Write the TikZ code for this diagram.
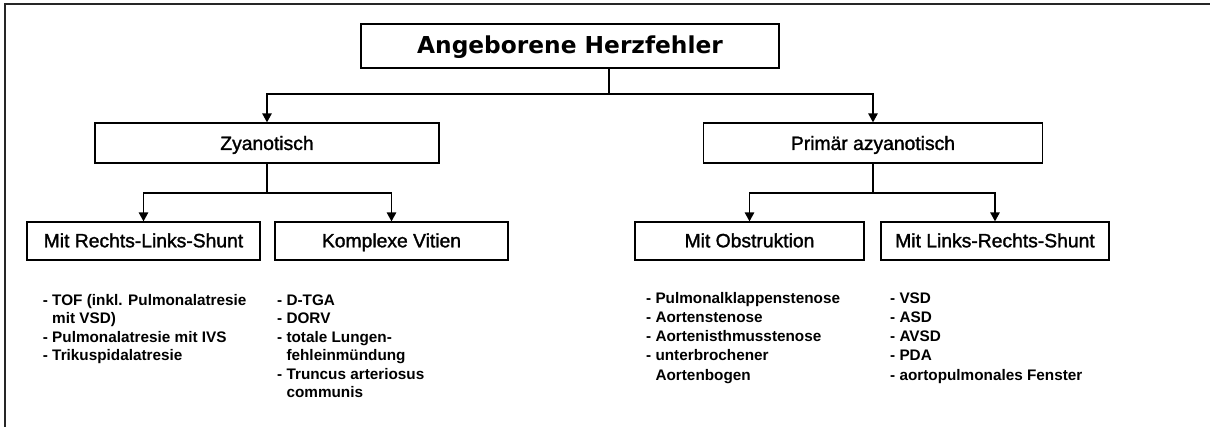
\documentclass[tikz,border=0pt]{standalone}
\usepackage{fontspec}
\setmainfont{Liberation Sans}
\newfontfamily\headfont{DejaVu Sans}
\newfontfamily\labelfont[FakeBold=1.5]{Liberation Sans}
\usetikzlibrary{arrows.meta}

% a left-aligned list whose first baseline is the node's base
\newcommand\entrylist[1]{\begin{tabular}[t]{@{}l@{}}#1\end{tabular}}
\newcommand\cont{\hphantom{- }}

\begin{document}
\begin{tikzpicture}[x=1pt,y=-1pt,
  box/.style={draw, line width=1.3pt, inner sep=0pt, minimum height=40pt,
              text height=13.9pt, text depth=0pt,
              font=\labelfont\fontsize{19.3}{23}\selectfont},
  subbox/.style={box, minimum height=38pt, text height=12.6pt},
  titlebox/.style={box, minimum height=44pt, text height=17.3pt, text depth=1.6pt,
              font=\headfont\bfseries\fontsize{23.3}{28}\selectfont},
  link/.style={line width=1.3pt},
  arr/.style={link, -{Triangle[length=9pt,width=9.5pt]}},
  listtext/.style={anchor=base west, inner sep=0pt, font=\bfseries\fontsize{15.3}{18.5}\selectfont},
  listwide/.style={listtext, font=\bfseries\fontsize{15.3}{19.3}\selectfont}
]
\useasboundingbox (0,0) rectangle (1210,426);
\fill[white] (0,0) rectangle (1210,426);

% outer frame (only the top and left edges lie inside the page)
\draw[line width=2pt, black!85] (5,430) -- (5,4) -- (1214,4);

% boxes
\node[titlebox, minimum width=418pt] (root) at (570,46) {Angeborene Herzfehler};
\node[box, minimum width=344pt] (zy) at (267,143) {Zyanotisch};
\node[box, minimum width=339pt] (pa) at (873,143) {Primär azyanotisch};
\node[subbox, minimum width=233pt] (rl) at (143.5,241) {Mit Rechts-Links-Shunt};
\node[subbox, minimum width=233pt] (kv) at (391.5,241) {Komplexe Vitien};
\node[subbox, minimum width=229pt] (ob) at (749.5,241) {Mit Obstruktion};
\node[subbox, minimum width=228pt] (lr) at (995,241) {Mit Links-Rechts-Shunt};

% branch points
\coordinate (j0) at (609,94);
\coordinate (j1) at (267,193);
\coordinate (j2) at (873,193);

% connectors
\draw[link] (root.south -| j0) -- (j0);
\draw[arr] (j0) -| (zy.north);
\draw[arr] (j0) -| (pa.north);
\draw[link] (zy.south) -- (j1);
\draw[arr] (j1) -| (rl.north);
\draw[arr] (j1) -| (kv.north);
\draw[link] (pa.south) -- (j2);
\draw[arr] (j2) -| (ob.north);
\draw[arr] (j2) -| (lr.north);

% lists of defects
\node[listtext] (l1) at (42.7,305) {\entrylist{%
  - TOF (inkl. Pulmonalatresie\\
  \cont mit VSD)\\
  - Pulmonalatresie mit IVS\\
  - Trikuspidalatresie}};
\node[listtext] (l2) at (277,305) {\entrylist{%
  - D-TGA\\
  - DORV\\
  - totale Lungen-\\
  \cont fehleinmündung\\
  - Truncus arteriosus\\
  \cont communis}};
\node[listwide] (l3) at (646,303) {\entrylist{%
  - Pulmonalklappenstenose\\
  - Aortenstenose\\
  - Aortenisthmusstenose\\
  - unterbrochener\\
  \cont Aortenbogen}};
\node[listwide] (l4) at (890,303) {\entrylist{%
  - VSD\\
  - ASD\\
  - AVSD\\
  - PDA\\
  - aortopulmonales Fenster}};
\end{tikzpicture}
\end{document}
